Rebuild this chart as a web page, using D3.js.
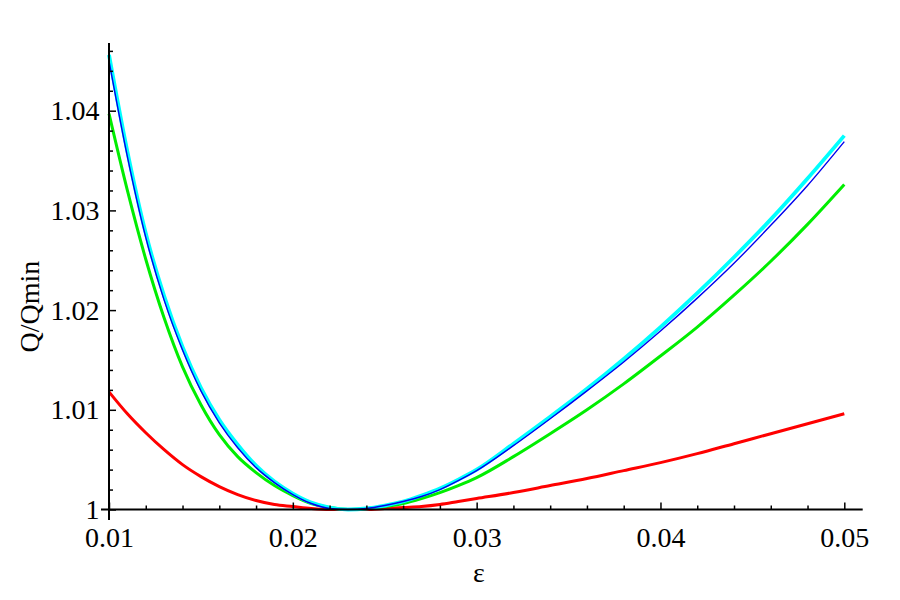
<!DOCTYPE html>
<html>
<head>
<meta charset="utf-8">
<script src="https://cdn.jsdelivr.net/npm/d3@7"></script>
<style>
  body { margin: 0; background: #fff; }
  text { font-family: "Liberation Serif", "DejaVu Serif", serif; }
</style>
</head>
<body>
<div id="chart"></div>
<script>
// epsilon grid and normalised Q values
const eps = [0.010, 0.011, 0.012, 0.013, 0.014, 0.015, 0.016, 0.017, 0.018, 0.019,
             0.020, 0.021, 0.022, 0.023, 0.024, 0.025, 0.026, 0.027, 0.028, 0.029,
             0.030, 0.032, 0.034, 0.036, 0.038, 0.040, 0.042, 0.044, 0.046, 0.048, 0.050];

const qRed = [1.0118, 1.0096, 1.0077, 1.0060, 1.0045, 1.0033, 1.0023, 1.0015, 1.0009, 1.0005,
              1.0003, 1.0001, 1.0000, 1.0000, 1.0000, 1.0001, 1.0002, 1.0003, 1.0005, 1.0008,
              1.0011, 1.0017, 1.0024, 1.0031, 1.0039, 1.0047, 1.0056, 1.0066, 1.0076, 1.0086, 1.0096];

const qGreen = [1.0397, 1.0320, 1.0251, 1.0192, 1.0143, 1.0105, 1.0075, 1.0053, 1.0037, 1.0024,
                1.0014, 1.0006, 1.0002, 1.0000, 1.0001, 1.0003, 1.0006, 1.0011, 1.0017, 1.0024,
                1.0032, 1.0053, 1.0076, 1.0100, 1.0126, 1.0154, 1.0183, 1.0215, 1.0249, 1.0286, 1.0326];

const qCyan = [1.0456, 1.0359, 1.0277, 1.0214, 1.0163, 1.0122, 1.0090, 1.0065, 1.0044, 1.0028,
               1.0016, 1.0007, 1.0002, 1.0000, 1.0001, 1.0004, 1.0008, 1.0014, 1.0021, 1.0030,
               1.0040, 1.0066, 1.0093, 1.0121, 1.0151, 1.0183, 1.0217, 1.0253, 1.0291, 1.0332, 1.0375];

const qBlue = [1.0450, 1.0354, 1.0273, 1.0210, 1.0160, 1.0119, 1.0087, 1.0062, 1.0042, 1.0027,
               1.0015, 1.0006, 1.0001, 1.0000, 1.0001, 1.0004, 1.0008, 1.0013, 1.0020, 1.0029,
               1.0039, 1.0064, 1.0091, 1.0119, 1.0148, 1.0179, 1.0212, 1.0247, 1.0285, 1.0325, 1.0369];

const xMajor = [0.01, 0.02, 0.03, 0.04, 0.05];
const xMinor = [0.012, 0.014, 0.016, 0.018, 0.022, 0.024, 0.026, 0.028,
                0.032, 0.034, 0.036, 0.038, 0.042, 0.044, 0.046, 0.048];
const yMajor = [1, 1.01, 1.02, 1.03, 1.04];
const yMinor = [1.002, 1.004, 1.006, 1.008, 1.012, 1.014, 1.016, 1.018,
                1.022, 1.024, 1.026, 1.028, 1.032, 1.034, 1.036, 1.038,
                1.042, 1.044, 1.046];

const series = [
  { name: "red", values: qRed, color: "#ff0000", width: 3 },
  { name: "green", values: qGreen, color: "#00ee00", width: 3 },
  { name: "cyan", values: qCyan, color: "#00ffff", width: 3.8 },
  { name: "blue", values: qBlue, color: "#0000ee", width: 1.4 },
];

const W = 900, H = 600;
const FONT = 28;

const svg = d3.select("#chart")
  .append("svg")
  .attr("width", W)
  .attr("height", H);

const x = d3.scaleLinear().domain([0.01, 0.05]).range([109, 844.3]);
const y = d3.scaleLinear().domain([1, 1.04]).range([509.5, 110.7]);

// curves
const line = d3.line()
  .x((d) => x(d[0]))
  .y((d) => y(d[1]))
  .curve(d3.curveMonotoneX);

svg.append("g")
  .selectAll("path")
  .data(series)
  .join("path")
  .attr("fill", "none")
  .attr("stroke", (s) => s.color)
  .attr("stroke-width", (s) => s.width)
  .attr("stroke-linejoin", "round")
  .attr("d", (s) => line(eps.map((e, i) => [e, s.values[i]])));

// axis lines, extended a little past the data range
svg.append("line")
  .attr("x1", 101).attr("x2", 862.7)
  .attr("y1", y(1)).attr("y2", y(1))
  .attr("stroke", "black").attr("stroke-width", 2);

svg.append("line")
  .attr("x1", x(0.01)).attr("x2", x(0.01))
  .attr("y1", 43).attr("y2", 520)
  .attr("stroke", "black").attr("stroke-width", 2);

// x ticks (pointing into the plot)
svg.append("g")
  .attr("transform", `translate(0,${y(1)})`)
  .call(d3.axisBottom(x).tickValues(xMajor).tickSize(-7).tickPadding(17.5)
    .tickFormat(d3.format(".2f")));
svg.append("g")
  .attr("transform", `translate(0,${y(1)})`)
  .call(d3.axisBottom(x).tickValues(xMinor).tickSize(-4).tickFormat(""));

// y ticks
svg.append("g")
  .attr("transform", `translate(${x(0.01)},0)`)
  .call(d3.axisLeft(y).tickValues(yMajor).tickSize(-7).tickPadding(9.5)
    .tickFormat((v) => (v === 1 ? "1" : d3.format(".2f")(v))));
svg.append("g")
  .attr("transform", `translate(${x(0.01)},0)`)
  .call(d3.axisLeft(y).tickValues(yMinor).tickSize(-4).tickFormat(""));

svg.selectAll(".domain").remove();
svg.selectAll(".tick line").attr("stroke", "black").attr("stroke-width", 1.5);
svg.selectAll(".tick text")
  .attr("fill", "black")
  .style("font-family", '"Liberation Serif", serif')
  .style("font-size", FONT + "px");

// axis titles
svg.append("text")
  .attr("x", 479)
  .attr("y", 582)
  .attr("text-anchor", "middle")
  .attr("font-size", FONT + "px")
  .text("ε");

svg.append("text")
  .attr("transform", "translate(39,306.7) rotate(-90)")
  .attr("text-anchor", "middle")
  .attr("font-size", FONT + "px")
  .text("Q/Qmin");
</script>
</body>
</html>
